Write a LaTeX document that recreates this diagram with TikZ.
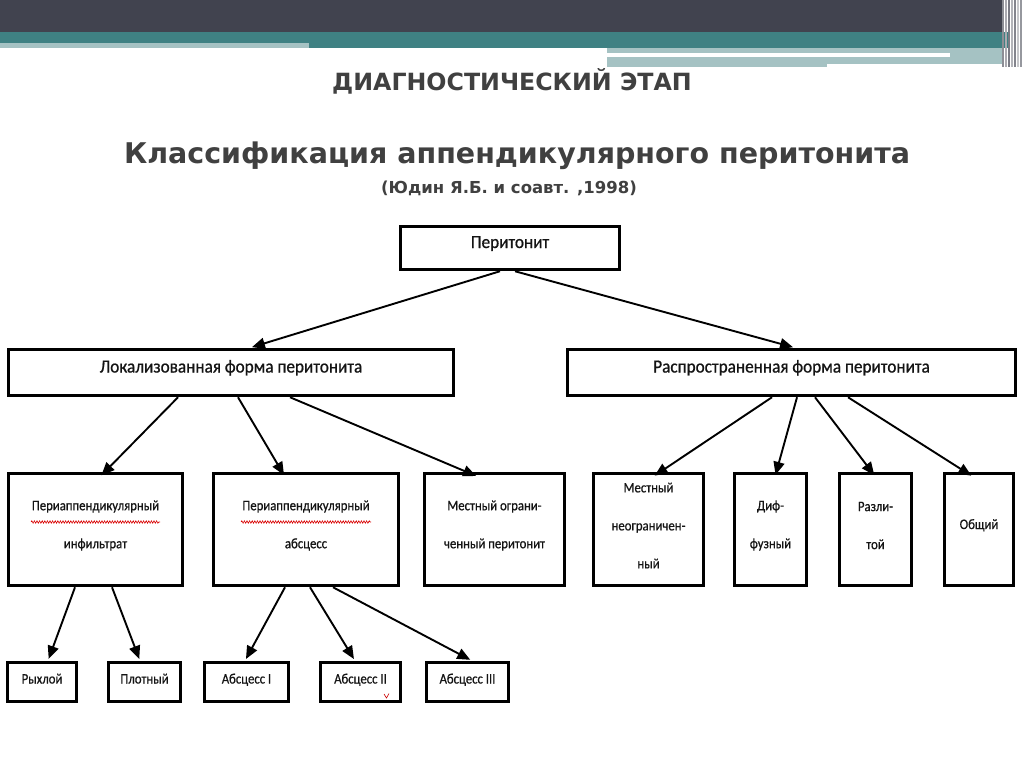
\documentclass[tikz,border=0pt]{standalone}
\usepackage{fontspec}
\setmainfont{DejaVu Sans}
\newfontfamily\boxfont[FakeStretch=0.93,FakeBold=0.8]{Carlito}
\newfontfamily\sboxfont[FakeStretch=0.88,FakeBold=0.6]{Carlito}
\usetikzlibrary{arrows.meta,decorations.pathmorphing,calc}
\definecolor{bandA}{HTML}{41434F}
\definecolor{bandB}{HTML}{3F8183}
\definecolor{bandC}{HTML}{A5C2C3}
\definecolor{headc}{HTML}{404040}
\definecolor{txtc}{HTML}{141414}
\begin{document}
\begin{tikzpicture}[x=1pt,y=-1pt,
  box/.style={draw=black,line width=3.5pt,inner sep=0pt,fill=white},
  biglbl/.style={font=\boxfont\fontsize{18.5}{20}\selectfont,text=txtc,align=center,text height=12pt,text depth=4pt},
  smlbl/.style={font=\sboxfont\fontsize{14.5}{38}\selectfont,text=txtc,align=center},
  rlbl/.style={font=\sboxfont\fontsize{14.5}{38}\selectfont,text=txtc,text height=10pt,text depth=3pt},
  arr/.style={line width=1.9pt,-{Triangle[length=13pt,width=11pt]},shorten >=2pt},
  wavy/.style={red!85!black,line width=0.6pt,decorate,decoration={snake,amplitude=1.2pt,segment length=2.6pt}},
  headfont/.style={font=\bfseries\fontsize{#1}{#1}\selectfont,text=headc}
]
\useasboundingbox (0,0) rectangle (1024,767);
\fill[white] (0,0) rectangle (1024,767);
% banner
\fill[bandA] (0,0) rectangle (1002,32);
\fill[bandB] (0,32) rectangle (1008,48);
\fill[bandC] (0,43) rectangle (309,48);
\fill[bandC] (607,48) rectangle (1002,64);
\fill[bandC] (607,64) rectangle (827,67);
\fill[white] (607,53) rectangle (950,57);
\foreach \x/\c in {1002/60,1005/45,1008/70,1011/40,1014/65,1017/30,1020/55}{
  \fill[bandA!\c] (\x,0) rectangle ++(2,67);
}
% headings
\node[headfont=23.7] (h1) at (512,81) {ДИАГНОСТИЧЕСКИЙ ЭТАП};
\node[headfont=28.5] (h2) at (517,156) {Классификация аппендикулярного перитонита};
\node[headfont=16.5] (h3) at (509,188) {(Юдин Я.Б. и соавт. ,1998)};
% level 1
\node[box,minimum width=219pt,minimum height=43pt,label={[biglbl,yshift=4pt]center:Перитонит}] (root) at (510,248) {};
% level 2
\node[box,minimum width=445pt,minimum height=46pt,label={[biglbl,yshift=4pt]center:Локализованная форма перитонита}] (loc) at (231,372.5) {};
\node[box,minimum width=448pt,minimum height=46pt,label={[biglbl,yshift=4pt]center:Распространенная форма перитонита}] (spr) at (791.5,372.5) {};
% level 3
\node[box,minimum width=174pt,minimum height=112pt,label={[smlbl,yshift=4pt]center:Периаппендикулярный\\инфильтрат}] (b1) at (95.5,529.5) {};
\node[box,minimum width=185pt,minimum height=112pt,label={[smlbl,yshift=4pt]center:Периаппендикулярный\\абсцесс}] (b2) at (306,529.5) {};
\node[box,minimum width=140pt,minimum height=112pt,label={[smlbl,yshift=4pt]center:Местный ограни-\\ченный перитонит}] (b3) at (494.5,529.5) {};
\node[box,minimum width=110pt,minimum height=112pt,label={[smlbl,yshift=4pt]center:Местный\\неограничен-\\ный}] (b4) at (648.5,529.5) {};
\node[box,minimum width=72pt,minimum height=112pt,label={[smlbl,yshift=4pt]center:Диф-\\фузный}] (b5) at (770.5,529.5) {};
\node[box,minimum width=72pt,minimum height=112pt,label={[smlbl,yshift=4pt]center:Разли-\\той}] (b6) at (875.5,529.5) {};
\node[box,minimum width=69pt,minimum height=112pt,label={[rlbl,yshift=4pt]center:Общий}] (b7) at (979,529.5) {};
% level 4
\node[box,minimum width=69pt,minimum height=39pt,label={[rlbl,yshift=2pt]center:Рыхлой}] (r1) at (42,682) {};
\node[box,minimum width=72pt,minimum height=39pt,label={[rlbl,yshift=2pt]center:Плотный}] (r2) at (144.5,682) {};
\node[box,minimum width=84pt,minimum height=39pt,label={[rlbl,yshift=2pt]center:Абсцесс I}] (r3) at (246.5,682) {};
\node[box,minimum width=80pt,minimum height=39pt,label={[rlbl,yshift=2pt]center:Абсцесс II}] (r4) at (360.5,682) {};
\node[box,minimum width=82pt,minimum height=39pt,label={[rlbl,yshift=2pt]center:Абсцесс III}] (r5) at (467.5,682) {};
% wavy underlines
\coordinate (w1a) at (31,522); \coordinate (w1b) at (160,522);
\coordinate (w2a) at (241,522); \coordinate (w2b) at (371,522);
\draw[wavy] (w1a) -- (w1b);
\draw[wavy] (w2a) -- (w2b);
\coordinate (m1) at (384,694); \coordinate (m2) at (386.5,698); \coordinate (m3) at (389,693.5);
\draw[red!80!black,line width=0.6pt] (m1) -- (m2) -- (m3);
% arrows
\draw[arr] ([xshift=-10pt]root.south) -- ([xshift=19pt]loc.north);
\draw[arr] ([xshift=5pt]root.south) -- ([xshift=3.5pt]spr.north);
\draw[arr] ([xshift=-53pt]loc.south) -- ([xshift=4.5pt,yshift=-5pt]b1.north);
\draw[arr] ([xshift=7pt]loc.south) -- ([xshift=-21pt,yshift=-5pt]b2.north);
\draw[arr] ([xshift=59pt]loc.south) -- ([xshift=-16.5pt,yshift=-5pt]b3.north);
\draw[arr] ([xshift=-19.5pt]spr.south) -- ([xshift=4.5pt,yshift=-5pt]b4.north);
\draw[arr] ([xshift=5.5pt]spr.south) -- ([xshift=4.5pt,yshift=-5pt]b5.north);
\draw[arr] ([xshift=23.5pt]spr.south) -- ([xshift=0pt,yshift=-5pt]b6.north);
\draw[arr] ([xshift=56.5pt]spr.south) -- ([xshift=-6pt,yshift=-5pt]b7.north);
\draw[arr] ([xshift=-20.5pt]b1.south) -- ([xshift=6pt]r1.north);
\draw[arr] ([xshift=16.5pt]b1.south) -- ([xshift=-4.5pt]r2.north);
\draw[arr] ([xshift=-21pt]b2.south) -- ([xshift=-1.5pt]r3.north);
\draw[arr] ([xshift=4pt]b2.south) -- ([xshift=-5.5pt]r4.north);
\draw[arr] ([xshift=27pt]b2.south) -- ([xshift=4.5pt]r5.north);
\end{tikzpicture}
\end{document}
